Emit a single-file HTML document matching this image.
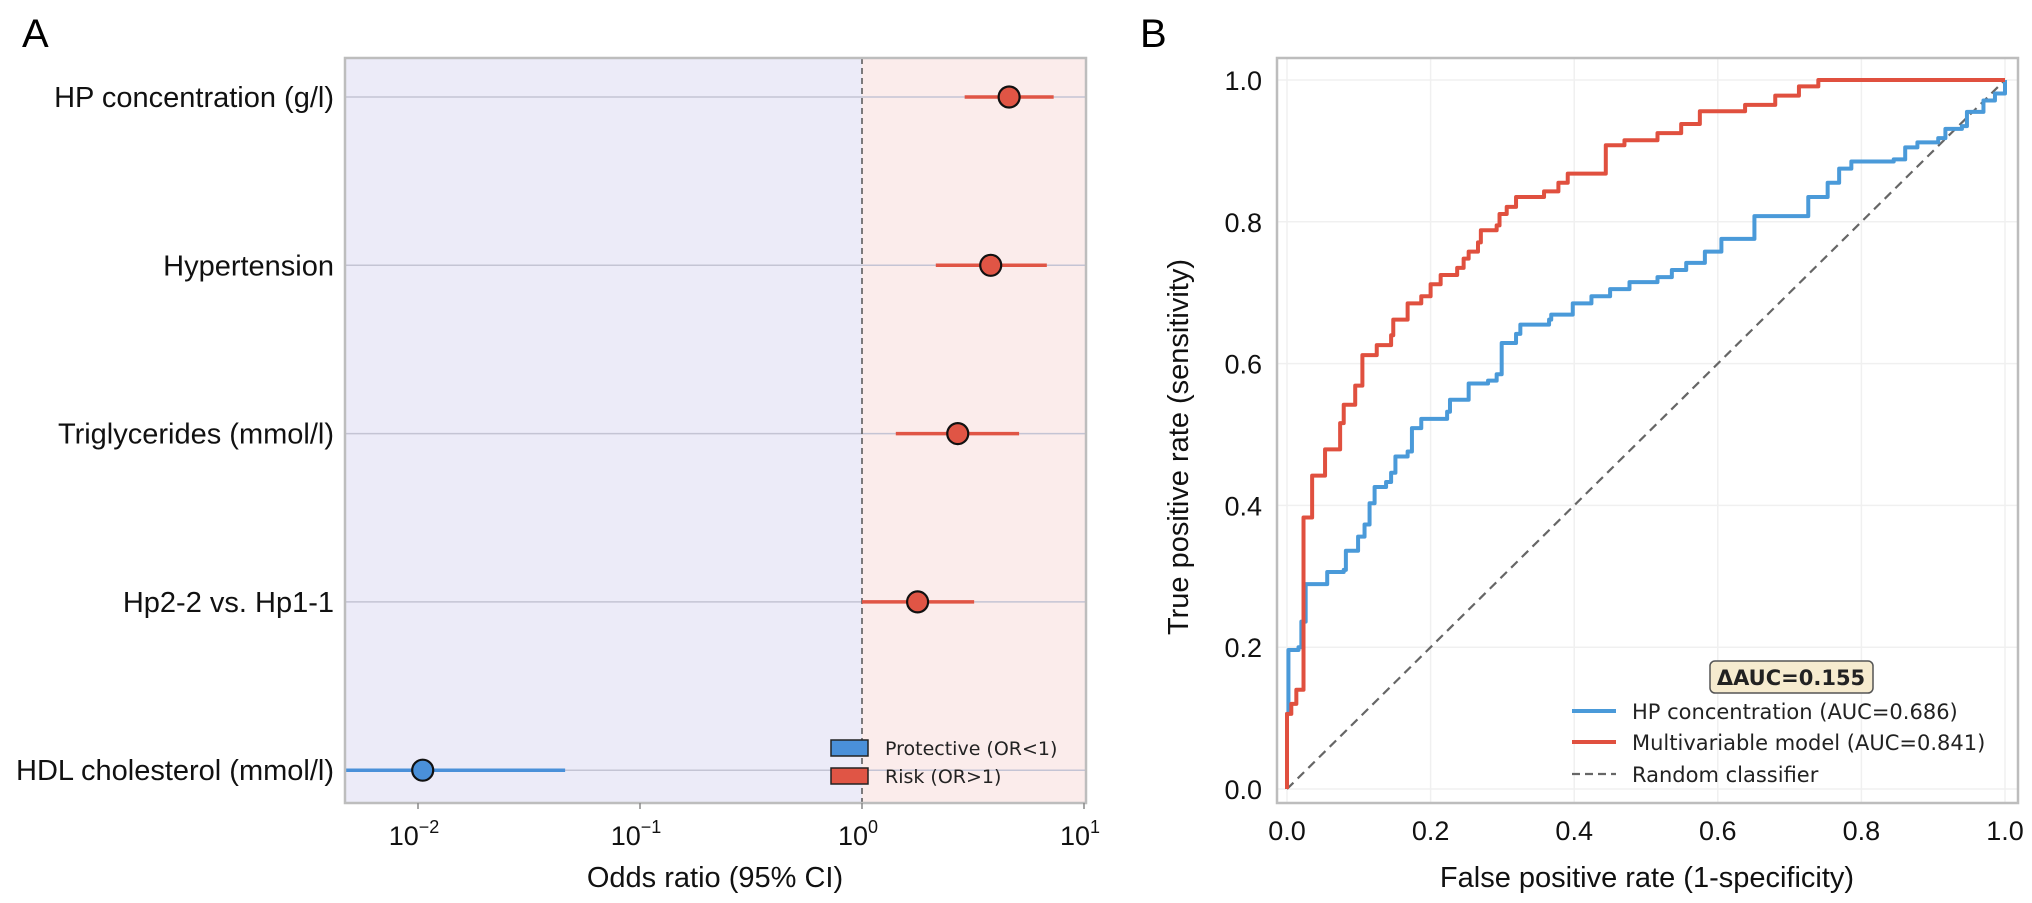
<!DOCTYPE html>
<html><head><meta charset="utf-8"><style>
html,body{margin:0;padding:0;background:#fff}
svg{display:block;font-family:"Liberation Sans",sans-serif}
</style></head><body>
<svg id="fig" width="2032" height="903" viewBox="0 0 2032 903" xmlns="http://www.w3.org/2000/svg">
<text x="22" y="47" font-size="40">A</text>
<text x="1140" y="47" font-size="40">B</text>
<g id="pa"></g>
<g id="pb"></g>
</svg>
<script>
const NS="http://www.w3.org/2000/svg";
function mk(p,t,a,txt){const e=document.createElementNS(NS,t);for(const k in a)e.setAttribute(k,a[k]);if(txt!==undefined)e.textContent=txt;p.appendChild(e);return e;}

// ---- Panel A data ----
const varNames=["HP concentration (g/l)","Hypertension","Triglycerides (mmol/l)","Hp2-2 vs. Hp1-1","HDL cholesterol (mmol/l)"];
const orValues=[4.6,3.8,2.7,1.78,0.0105];
const ciLow=[2.9,2.15,1.42,1.0,0.002];
const ciHigh=[7.3,6.8,5.1,3.2,0.046];
const xTickExp=[-2,-1,0,1];

// ---- Panel B data ----
const hpFpr=[0,0,0.002,0.016,0.02,0.026,0.053,0.056,0.079,0.082,0.099,0.108,0.115,0.122,0.138,0.145,0.151,0.168,0.174,0.187,0.223,0.227,0.253,0.28,0.292,0.299,0.319,0.325,0.365,0.368,0.398,0.424,0.45,0.477,0.516,0.536,0.556,0.582,0.605,0.631,0.651,0.694,0.726,0.753,0.769,0.786,0.845,0.861,0.878,0.907,0.917,0.94,0.947,0.97,0.986,1.0];
const hpTpr=[0,0.106,0.196,0.2,0.236,0.289,0.289,0.306,0.309,0.336,0.356,0.373,0.403,0.426,0.433,0.446,0.469,0.476,0.509,0.522,0.532,0.549,0.572,0.576,0.585,0.629,0.642,0.655,0.662,0.669,0.685,0.695,0.705,0.715,0.722,0.732,0.742,0.758,0.776,0.776,0.808,0.808,0.835,0.855,0.875,0.885,0.888,0.905,0.912,0.918,0.931,0.935,0.955,0.971,0.981,1.0];
const mvFpr=[0,0,0.006,0.013,0.023,0.035,0.053,0.074,0.079,0.095,0.105,0.125,0.145,0.148,0.168,0.187,0.2,0.214,0.237,0.246,0.253,0.266,0.27,0.292,0.296,0.306,0.319,0.345,0.358,0.378,0.391,0.437,0.444,0.47,0.516,0.549,0.575,0.628,0.638,0.677,0.68,0.713,0.74,1.0];
const mvTpr=[0,0.106,0.12,0.14,0.383,0.442,0.479,0.516,0.542,0.569,0.612,0.626,0.64,0.662,0.685,0.695,0.712,0.725,0.735,0.748,0.758,0.771,0.788,0.795,0.811,0.821,0.835,0.835,0.843,0.855,0.868,0.868,0.908,0.915,0.925,0.938,0.956,0.956,0.965,0.965,0.978,0.991,1.0,1.0];
const rocTicks=[0,0.2,0.4,0.6,0.8,1.0];

// ===== Panel A =====
const A=document.getElementById('pa');
const aL=345,aR=1086,aT=58,aB=803;
const xA=v=>862+Math.log10(v)*222;
const rowY=i=>97+i*168.3;
const x1=xA(1);
let e;
e=mk(A,'rect',{x:aL,y:aT,width:x1-aL,height:aB-aT,fill:'#ecebf8'});
e=mk(A,'rect',{x:x1,y:aT,width:aR-x1,height:aB-aT,fill:'#fbeceb'});
varNames.forEach((n,i)=>{const y=rowY(i);
 e=mk(A,'line',{x1:aL,x2:aR,y1:y,y2:y,stroke:'#c4c4d4','stroke-width':1.5});
 e=mk(A,'text',{x:334,y:y+10,'font-size':29,'text-anchor':'end',fill:'#111'},n);
});
e=mk(A,'line',{x1:x1,x2:x1,y1:aT,y2:aB,stroke:'#555','stroke-width':1.5,'stroke-dasharray':'6,4'});
varNames.forEach((n,i)=>{const y=rowY(i);const col=orValues[i]<1?'#4a90d9':'#e05545';
 const lo=Math.max(aL,xA(ciLow[i])),hi=Math.min(aR,xA(ciHigh[i]));
 e=mk(A,'line',{x1:lo,x2:hi,y1:y,y2:y,stroke:col,'stroke-width':3.5});
 e=mk(A,'circle',{cx:xA(orValues[i]),cy:y,r:10.5,fill:col,stroke:'#111','stroke-width':2.2});
});
e=mk(A,'rect',{x:aL,y:aT,width:aR-aL,height:aB-aT,fill:'none',stroke:'#bdbdbd','stroke-width':2.5});
xTickExp.forEach(k=>{const x=xA(Math.pow(10,k));
 e=mk(A,'line',{x1:x,x2:x,y1:aB,y2:aB+6,stroke:'#888','stroke-width':1.5});
 const t=mk(A,'text',{x:x-4,y:845,'font-size':27,'text-anchor':'middle',fill:'#111'});
 
 t.appendChild(document.createTextNode('10'));
 mk(t,'tspan',{dy:-12,'font-size':18},String(k).replace('-','\u2212'));
});
e=mk(A,'text',{x:715,y:887,'font-size':29,'text-anchor':'middle',fill:'#111'},'Odds ratio (95% CI)');
// legend A
[['Protective (OR<1)','#4a90d9',748],['Risk (OR>1)','#e05545',776]].forEach(l=>{
 e=mk(A,'rect',{x:831,y:l[2]-8,width:37,height:16,fill:l[1],stroke:'#222','stroke-width':1.5});
 e=mk(A,'text',{x:885,y:l[2]+7,'font-size':19,'font-family':'DejaVu Sans, sans-serif',fill:'#222'},l[0]);
});

// ===== Panel B =====
const B=document.getElementById('pb');
const fL=1277,fR=2018,fT=58,fB=803;
const xB=v=>1287+v*718, yB=v=>789-v*709;
rocTicks.forEach(t=>{
 e=mk(B,'line',{x1:xB(t),x2:xB(t),y1:fT,y2:fB,stroke:'#f0f0f0','stroke-width':1.5});
 e=mk(B,'line',{x1:fL,x2:fR,y1:yB(t),y2:yB(t),stroke:'#f0f0f0','stroke-width':1.5});
 e=mk(B,'text',{x:xB(t),y:840,'font-size':27,'text-anchor':'middle',fill:'#111'},t.toFixed(1));
 e=mk(B,'text',{x:1262,y:yB(t)+10,'font-size':27,'text-anchor':'end',fill:'#111'},t.toFixed(1));
});
e=mk(B,'line',{x1:xB(0),y1:yB(0),x2:xB(1),y2:yB(1),stroke:'#666','stroke-width':2.2,'stroke-dasharray':'9,6'});
function step(fx,ty){let d='M'+xB(fx[0])+','+yB(ty[0]);for(let i=1;i<fx.length;i++){d+=' H'+xB(fx[i])+' V'+yB(ty[i]);}return d;}
e=mk(B,'path',{d:step(hpFpr,hpTpr),fill:'none',stroke:'#4a9ad9','stroke-width':4,'stroke-linejoin':'round'});
e=mk(B,'path',{d:step(mvFpr,mvTpr),fill:'none',stroke:'#e0503f','stroke-width':4,'stroke-linejoin':'round'});
e=mk(B,'rect',{x:fL,y:fT,width:fR-fL,height:fB-fT,fill:'none',stroke:'#bdbdbd','stroke-width':2.5});
e=mk(B,'text',{x:1647,y:887,'font-size':29,'text-anchor':'middle',fill:'#111'},'False positive rate (1-specificity)');
e=mk(B,'text',{x:0,y:0,'font-size':29,'text-anchor':'middle',fill:'#111',transform:'translate(1188,447) rotate(-90)'},'True positive rate (sensitivity)');
e=mk(B,'rect',{x:1710,y:661,width:163,height:32,rx:5,fill:'#f6ebcf',stroke:'#555','stroke-width':1.5});
e=mk(B,'text',{x:1791,y:685,'font-size':21,'font-weight':'bold','font-family':'DejaVu Sans, sans-serif','text-anchor':'middle',fill:'#222'},'\u0394AUC=0.155');
[['HP concentration (AUC=0.686)','#4a9ad9',711,null],['Multivariable model (AUC=0.841)','#e0503f',742,null],['Random classifier','#666',774,'8,5']].forEach(l=>{
 const a={x1:1572,x2:1616,y1:l[2],y2:l[2],stroke:l[1],'stroke-width':l[3]?2.2:4};if(l[3])a['stroke-dasharray']=l[3];
 e=mk(B,'line',a);
 e=mk(B,'text',{x:1632,y:l[2]+8,'font-size':21,'font-family':'DejaVu Sans, sans-serif',fill:'#222'},l[0]);
});
</script>
</body></html>
